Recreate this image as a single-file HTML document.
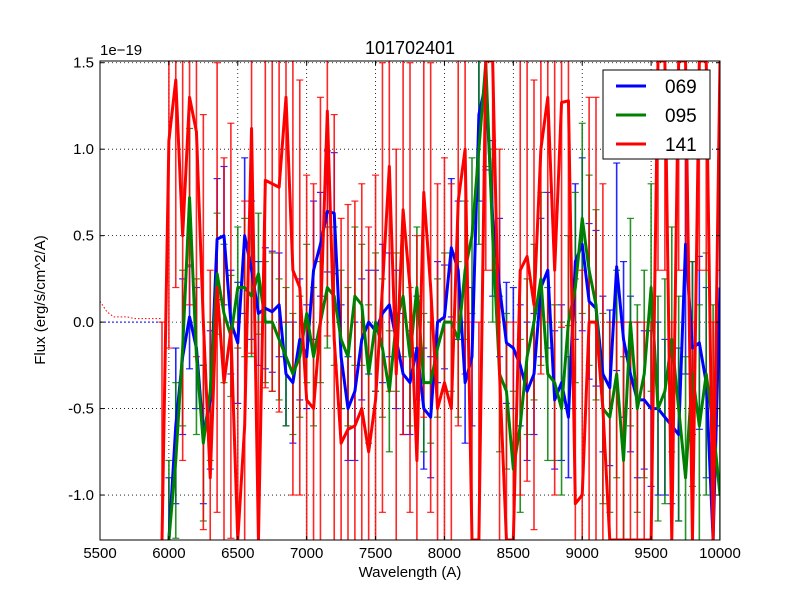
<!DOCTYPE html>
<html><head><meta charset="utf-8"><style>
html,body{margin:0;padding:0;background:#fff;width:800px;height:600px;overflow:hidden;}
svg{display:block;font-family:"Liberation Sans","DejaVu Sans",sans-serif;}
</style></head><body>
<svg id="chart" width="800" height="600">
<rect width="800" height="600" fill="#fff"/>
<defs><clipPath id="pc"><rect x="100" y="61" width="620" height="479"/></clipPath></defs>
<g id="grid"></g>
<g id="plot" clip-path="url(#pc)"></g>
<rect x="100" y="61" width="620" height="479" fill="none" stroke="#000" stroke-width="1"/>
<g id="ticks"></g>
<text x="410" y="54" font-size="18" text-anchor="middle">101702401</text>
<text x="100" y="55" font-size="15">1e−19</text>
<text x="410" y="577" font-size="15" text-anchor="middle">Wavelength (A)</text>
<text x="45" y="300" font-size="15" text-anchor="middle" transform="rotate(-90 45 300)">Flux (erg/s/cm^2/A)</text>
<g>
<rect x="603" y="70" width="107" height="89" fill="#fff" stroke="#000" stroke-width="1"/>
<line x1="616" y1="86" x2="646" y2="86" stroke="#0000ff" stroke-width="3"/>
<text x="665" y="93" font-size="19">069</text>
<line x1="616" y1="115" x2="646" y2="115" stroke="#008000" stroke-width="3"/>
<text x="665" y="122" font-size="19">095</text>
<line x1="616" y1="144" x2="646" y2="144" stroke="#ff0000" stroke-width="3"/>
<text x="665" y="151" font-size="19">141</text>
</g>
</svg>
<script>
const xTicks=[5500,6000,6500,7000,7500,8000,8500,9000,9500,10000];
const yTicks=[-1.0,-0.5,0.0,0.5,1.0,1.5];
const wlBlue=[6000,6050,6100,6150,6200,6250,6300,6350,6400,6450,6500,6550,6600,6650,6700,6750,6800,6850,6900,6950,7000,7050,7100,7150,7200,7250,7300,7350,7400,7450,7500,7550,7600,7650,7700,7750,7800,7850,7900,7950,8000,8050,8100,8150,8200,8250,8300,8350,8400,8450,8500,8550,8600,8650,8700,8750,8800,8850,8900,8950,9000,9050,9100,9150,9200,9250,9300,9350,9400,9450,9500,9550,9600,9650,9700,9750,9800,9850,9900,9950,10000];
const flux069=[-1.3,-0.6,-0.2,0.03,-0.15,-0.65,-0.45,0.48,0.5,0.0,-0.12,0.5,0.3,0.05,0.08,0.06,0.1,-0.3,-0.35,-0.1,-0.2,0.3,0.45,0.64,0.63,-0.2,-0.5,-0.4,-0.1,0.0,-0.05,0.05,0.1,-0.1,-0.3,-0.35,-0.15,-0.5,-0.55,0.0,0.03,0.43,0.3,-0.35,-0.2,1.2,1.38,0.6,0.2,-0.12,-0.15,-0.25,-0.4,-0.3,0.2,0.3,-0.45,-0.35,-0.55,0.35,0.45,0.12,0.08,-0.3,-0.38,0.32,-0.1,-0.3,-0.45,-0.45,-0.5,-0.5,-0.55,-0.6,-0.65,0.45,-0.15,-0.12,-0.35,-1.3,0.2];
const err069=[0.4,0.45,0.45,0.3,0.35,0.4,0.4,0.35,0.4,0.3,0.35,0.45,0.4,0.3,0.35,0.35,0.3,0.3,0.35,0.35,0.3,0.4,0.3,0.35,0.35,0.3,0.3,0.4,0.35,0.3,0.35,0.4,0.3,0.4,0.35,0.3,0.3,0.35,0.35,0.35,0.3,0.4,0.4,0.35,0.4,0.5,0.5,0.45,0.4,0.35,0.35,0.35,0.4,0.35,0.4,0.45,0.4,0.45,0.35,0.45,0.5,0.45,0.45,0.45,0.45,0.6,0.45,0.45,0.45,0.4,0.45,0.5,0.45,0.45,0.5,0.75,0.5,0.5,0.55,0.6,0.8];
const flux095=[-1.3,-0.8,-0.15,0.72,-0.2,-0.7,-0.4,0.28,0.05,-0.08,0.2,0.2,0.15,0.28,0.0,0.0,-0.1,-0.2,-0.3,-0.2,0.05,-0.2,0.0,0.2,0.15,-0.1,-0.2,0.15,0.1,-0.3,0.0,-0.15,-0.4,0.0,0.15,-0.2,0.2,-0.35,-0.35,-0.15,0.0,0.0,-0.1,0.3,0.5,1.0,1.5,0.5,-0.3,-0.4,-0.85,-0.6,-0.2,0.0,0.25,-0.3,-0.35,-0.5,0.0,0.2,0.6,0.3,0.1,-0.5,-0.55,-0.3,-0.8,0.0,-0.5,-0.3,0.2,-0.5,-0.4,-0.1,-0.5,-0.9,-0.3,-0.6,-0.3,-0.6,-1.0];
const err095=[0.5,0.45,0.45,0.4,0.45,0.45,0.4,0.35,0.4,0.35,0.35,0.4,0.35,0.35,0.35,0.4,0.35,0.4,0.35,0.35,0.4,0.4,0.35,0.35,0.4,0.4,0.4,0.4,0.35,0.4,0.4,0.4,0.35,0.4,0.35,0.4,0.35,0.4,0.35,0.4,0.4,0.4,0.45,0.4,0.45,0.55,0.6,0.5,0.45,0.45,0.45,0.5,0.45,0.45,0.5,0.5,0.45,0.5,0.5,0.55,0.55,0.55,0.55,0.55,0.55,0.6,0.6,0.6,0.6,0.6,0.6,0.65,0.65,0.65,0.65,0.7,0.65,0.7,0.7,0.7,0.75];
const wlRed=[5950,6000,6050,6100,6150,6200,6250,6300,6350,6400,6450,6500,6550,6600,6650,6700,6750,6800,6850,6900,6950,7000,7050,7100,7150,7200,7250,7300,7350,7400,7450,7500,7550,7600,7650,7700,7750,7800,7850,7900,7950,8000,8050,8100,8150,8200,8250,8300,8350,8400,8450,8500,8550,8600,8650,8700,8750,8800,8850,8900,8950,9000,9050,9100,9150,9200,9250,9300,9350,9400,9450,9500,9550,9600,9650,9700,9750,9800,9850,9900,9950,10000];
const flux141=[-1.3,1.05,1.4,0.5,1.3,1.1,0.0,-0.9,0.2,-0.35,-0.05,-1.3,-0.6,1.12,-1.3,0.82,0.8,0.78,1.3,0.3,0.2,-0.45,-0.5,0.0,1.22,-0.1,-0.7,-0.62,-0.6,-0.5,-0.75,-0.45,0.2,0.9,-0.3,0.65,0.2,-0.8,0.75,0.2,-0.5,-0.35,-0.5,0.7,1.0,-1.3,-1.3,1.6,1.6,-0.3,-1.3,-1.3,0.3,0.38,0.1,1.0,1.3,0.3,1.27,1.28,-1.05,-1.0,0.0,0.0,-0.5,-1.3,-1.3,-1.3,-1.3,-1.3,-1.3,-1.3,1.6,1.6,-1.3,1.6,1.6,-1.3,1.6,1.6,-1.3,1.6];
const err141=[1.3,1.2,1.2,1.3,1.2,1.3,1.2,1.2,1.3,1.3,1.2,1.3,1.3,1.3,1.3,1.2,1.2,1.3,1.3,1.3,1.2,1.3,1.3,1.3,1.3,1.3,1.3,1.3,1.3,1.3,1.3,1.3,1.3,1.3,1.3,1.3,1.3,1.3,1.3,1.3,1.3,1.3,1.3,1.3,1.3,1.3,1.3,1.3,1.3,1.3,1.3,1.3,1.3,1.3,1.3,1.3,1.3,1.3,1.3,1.3,1.3,1.3,1.3,1.3,1.3,1.3,1.3,1.3,1.3,1.3,1.3,1.3,1.3,1.3,1.3,1.3,1.3,1.3,1.3,1.3,1.3,1.3];
const wlPre=[5500,5550,5600,5650,5700,5750,5800,5850,5900,5950];
const fluxPre141=[0.12,0.06,0.03,0.03,0.03,0.02,0.02,0.02,0.02,0.02];

const NS='http://www.w3.org/2000/svg';
const X0=100,X1=720,Y0=61,Y1=540,XMIN=5500,XMAX=10000,YMIN=-1.26,YMAX=1.51;
function sx(v){return X0+(v-XMIN)/(XMAX-XMIN)*(X1-X0);}
function sy(v){return Y1-(v-YMIN)/(YMAX-YMIN)*(Y1-Y0);}
function cy(v){return Math.max(Y0,Math.min(Y1,sy(v)));}
function mk(tag,attrs,parent){const e=document.createElementNS(NS,tag);for(const k in attrs)e.setAttribute(k,attrs[k]);parent.appendChild(e);return e;}
const grid=document.getElementById('grid'),plot=document.getElementById('plot'),ticks=document.getElementById('ticks');
xTicks.forEach(t=>{
 const x=sx(t);
 const g=mk('line',{x1:x,x2:x,y1:Y0,y2:Y1,stroke:'#000','stroke-dasharray':'1,3','stroke-width':0.8},grid);
 
 
 mk('line',{x1:x,x2:x,y1:Y1,y2:Y1-4,stroke:'#000'},ticks);
 mk('line',{x1:x,x2:x,y1:Y0,y2:Y0+4,stroke:'#000'},ticks);
 const tx=mk('text',{x:x,y:Y1+18,'font-size':15,'text-anchor':'middle'},ticks);
 tx.textContent=t;
 
 
});
yTicks.forEach(t=>{
 const y=sy(t);
 const g=mk('line',{x1:X0,x2:X1,y1:y,y2:y,stroke:'#000','stroke-dasharray':'1,3','stroke-width':0.8},grid);
 
 
 mk('line',{x1:X0,x2:X0+4,y1:y,y2:y,stroke:'#000'},ticks);
 mk('line',{x1:X1,x2:X1-4,y1:y,y2:y,stroke:'#000'},ticks);
 const tx=mk('text',{x:X0-6,y:y+5,'font-size':15,'text-anchor':'end'},ticks);
 tx.textContent=t.toFixed(1);
 
 
});
const pb=mk('line',{x1:sx(5500),x2:sx(6000),y1:sy(0),y2:sy(0),stroke:'#0000ff','stroke-dasharray':'2,2','stroke-width':1},plot);


const pr=mk('polyline',{points:wlPre.map((w,i)=>sx(w)+','+sy(fluxPre141[i])).join(' '),fill:'none',stroke:'#ff0000','stroke-dasharray':'1.5,2','stroke-width':1},plot);


function series(wl,f,e,col,name){
 const g=mk('g',{},plot);
 
 
 wl.forEach((w,i)=>{
  const x=sx(w),ra=sy(f[i]+e[i]),rb=sy(f[i]-e[i]);
  const ya=cy(f[i]+e[i]),yb=cy(f[i]-e[i]);
  const l=mk('line',{x1:x,x2:x,y1:ya,y2:yb,stroke:col,'stroke-width':1.6,'stroke-opacity':0.85},g);
  
  
  if(ra>=Y0&&ra<=Y1)mk('line',{x1:x-3.5,x2:x+3.5,y1:ra,y2:ra,stroke:col,'stroke-width':1.2,'stroke-opacity':0.85},g);
  if(rb>=Y0&&rb<=Y1)mk('line',{x1:x-3.5,x2:x+3.5,y1:rb,y2:rb,stroke:col,'stroke-width':1.2,'stroke-opacity':0.85},g);
 });
 return g;
}
function lineOf(wl,f,col,name){
 const p=mk('polyline',{points:wl.map((w,i)=>sx(w)+','+cy(f[i])).join(' '),fill:'none',stroke:col,'stroke-width':3,'stroke-linejoin':'round'},plot);
 
 
}
series(wlBlue,flux069,err069,'#0000ff','069');
series(wlBlue,flux095,err095,'#008000','095');
series(wlRed,flux141,err141,'#ff0000','141');
lineOf(wlBlue,flux069,'#0000ff','069');
lineOf(wlBlue,flux095,'#008000','095');
lineOf(wlRed,flux141,'#ff0000','141');
</script>
</body></html>
